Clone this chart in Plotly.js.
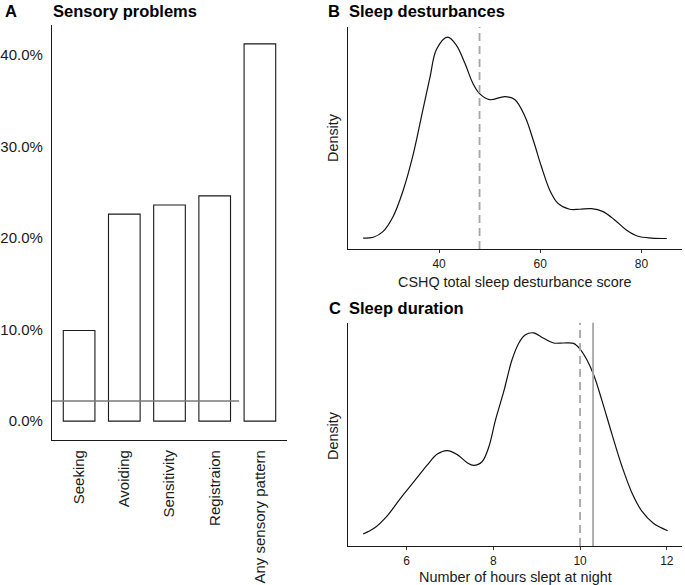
<!DOCTYPE html>
<html>
<head>
<meta charset="utf-8">
<script src="https://cdn.plot.ly/plotly-3.0.1.min.js"></script>
<style>html,body{margin:0;padding:0;background:#fff;}#chart{width:685px;height:585px;}</style>
</head>
<body>
<div id="chart"></div>
<script>
// Panel A: sensory problems
const sensoryCategories = ['Seeking', 'Avoiding', 'Sensitivity', 'Registraion', 'Any sensory pattern'];
const sensoryShares = [0.099, 0.226, 0.236, 0.246, 0.412];
const sensoryReference = [0.022];
const sensoryTickVals = [0, 0.1, 0.2, 0.3, 0.4];

// Panel B: CSHQ density (relative density)
const cshqScore = [25, 27, 28.9, 30.9, 32.9, 34.9, 36.8, 38.2, 39.5, 41.7, 43.4, 45.1, 46.7, 48, 50, 53, 55, 57, 58.6, 60.2, 61.9, 63.5, 65.8, 67.8, 70.1, 72.4, 74.7, 77, 79.3, 82, 85];
const cshqDensity = [0.004, 0.008, 0.036, 0.11, 0.24, 0.42, 0.64, 0.80, 0.94, 1.0, 0.96, 0.87, 0.77, 0.72, 0.69, 0.705, 0.69, 0.605, 0.49, 0.36, 0.24, 0.176, 0.147, 0.147, 0.15, 0.135, 0.094, 0.044, 0.013, 0.004, 0.002];
const cshqCutoff = [48];
const cshqTicks = [40, 60, 80];

// Panel C: sleep duration density (relative density)
const sleepHours = [5.0, 5.25, 5.56, 5.86, 6.17, 6.48, 6.71, 6.94, 7.17, 7.40, 7.55, 7.74, 7.90, 8.05, 8.24, 8.43, 8.59, 8.74, 8.93, 9.16, 9.39, 9.62, 9.85, 10.0, 10.16, 10.32, 10.5, 10.73, 10.97, 11.2, 11.43, 11.69, 12.02];
const sleepDensity = [0.009, 0.037, 0.10, 0.185, 0.267, 0.35, 0.403, 0.42, 0.40, 0.36, 0.347, 0.365, 0.44, 0.57, 0.71, 0.866, 0.95, 0.99, 1.0, 0.973, 0.95, 0.95, 0.948, 0.92, 0.866, 0.79, 0.67, 0.505, 0.34, 0.21, 0.12, 0.062, 0.025];
const sleepRecommended = [10.0];
const sleepMean = [10.3];
const sleepTicks = [6, 8, 10, 12];

const FONT = 'Liberation Sans, Arial, sans-serif';
const INK = '#1a1a1a';

const traces = [
  {
    type: 'bar', x: sensoryCategories, y: sensoryShares, xaxis: 'x', yaxis: 'y',
    width: 0.7, marker: {color: '#ffffff', line: {color: '#1a1a1a', width: 1.1}},
    hoverinfo: 'x+y', showlegend: false
  },
  {
    type: 'scatter', mode: 'lines', x: cshqScore, y: cshqDensity, xaxis: 'x2', yaxis: 'y2',
    line: {color: '#111', width: 1.2, shape: 'spline', smoothing: 1.0}, showlegend: false
  },
  {
    type: 'scatter', mode: 'lines', x: sleepHours, y: sleepDensity, xaxis: 'x3', yaxis: 'y3',
    line: {color: '#111', width: 1.2, shape: 'spline', smoothing: 1.0}, showlegend: false
  }
];

const axisBase = {
  showgrid: false, zeroline: false, showline: true, linecolor: '#1a1a1a', linewidth: 1.1,
  tickfont: {family: FONT, color: INK}
};

const layout = {
  width: 685, height: 585,
  margin: {l: 0, r: 0, t: 0, b: 0},
  paper_bgcolor: '#ffffff', plot_bgcolor: '#ffffff',
  font: {family: FONT, color: INK},
  showlegend: false,
  xaxis: Object.assign({}, axisBase, {
    domain: [0.0759, 0.419], anchor: 'y', type: 'category', range: [-0.6, 4.6],
    ticks: '', tickangle: -90, ticklabelstandoff: 3,
    tickfont: {family: FONT, size: 15, color: INK}
  }),
  yaxis: Object.assign({}, axisBase, {
    domain: [0.2479, 0.9573], anchor: 'x', range: [-0.0206, 0.4326],
    tickvals: sensoryTickVals, tickformat: '.1%', ticks: '', ticklabelstandoff: 5,
    tickfont: {family: FONT, size: 15, color: INK}
  }),
  xaxis2: Object.assign({}, axisBase, {
    domain: [0.508, 0.9956], anchor: 'y2', range: [22, 88], tickvals: cshqTicks,
    ticks: 'outside', ticklen: 3, tickcolor: '#333', tickwidth: 1, ticklabelstandoff: 1,
    tickfont: {family: FONT, size: 12, color: INK}
  }),
  yaxis2: Object.assign({}, axisBase, {
    domain: [0.5744, 0.9538], anchor: 'x2', range: [-0.05, 1.05], showticklabels: false, ticks: ''
  }),
  xaxis3: Object.assign({}, axisBase, {
    domain: [0.508, 0.9956], anchor: 'y3', range: [4.65, 12.35], tickvals: sleepTicks,
    ticks: 'outside', ticklen: 3, tickcolor: '#333', tickwidth: 1, ticklabelstandoff: 1,
    tickfont: {family: FONT, size: 12, color: INK}
  }),
  yaxis3: Object.assign({}, axisBase, {
    domain: [0.0667, 0.4484], anchor: 'x3', range: [-0.05, 1.05], showticklabels: false, ticks: ''
  }),
  shapes: [
    {type: 'line', xref: 'x', yref: 'y', x0: -0.6, x1: 3.54, y0: sensoryReference[0], y1: sensoryReference[0],
     line: {color: '#7a7a7a', width: 1.6}},
    {type: 'line', xref: 'x2', yref: 'y2 domain', x0: cshqCutoff[0], x1: cshqCutoff[0], y0: 0, y1: 1,
     line: {color: '#a6a6a6', width: 1.8, dash: '8px,5px'}},
    {type: 'line', xref: 'x3', yref: 'y3 domain', x0: sleepRecommended[0], x1: sleepRecommended[0], y0: 0, y1: 1,
     line: {color: '#a6a6a6', width: 1.8, dash: '8px,5px'}},
    {type: 'line', xref: 'x3', yref: 'y3 domain', x0: sleepMean[0], x1: sleepMean[0], y0: 0, y1: 1,
     line: {color: '#a6a6a6', width: 1.8}}
  ],
  annotations: [
    {xref: 'paper', yref: 'paper', x: 3 / 685, y: 1 - 11 / 585, xanchor: 'left', yanchor: 'middle', showarrow: false,
     text: '<b>A</b>', font: {family: FONT, size: 16.5, color: '#000'}},
    {xref: 'paper', yref: 'paper', x: 51 / 685, y: 1 - 11 / 585, xanchor: 'left', yanchor: 'middle', showarrow: false,
     text: '<b>Sensory problems</b>', font: {family: FONT, size: 16.5, color: '#000'}},
    {xref: 'paper', yref: 'paper', x: 326 / 685, y: 1 - 11 / 585, xanchor: 'left', yanchor: 'middle', showarrow: false,
     text: '<b>B</b>', font: {family: FONT, size: 16.5, color: '#000'}},
    {xref: 'paper', yref: 'paper', x: 347 / 685, y: 1 - 11 / 585, xanchor: 'left', yanchor: 'middle', showarrow: false,
     text: '<b>Sleep desturbances</b>', font: {family: FONT, size: 16.5, color: '#000'}},
    {xref: 'paper', yref: 'paper', x: 327 / 685, y: 1 - 307.5 / 585, xanchor: 'left', yanchor: 'middle', showarrow: false,
     text: '<b>C</b>', font: {family: FONT, size: 16.5, color: '#000'}},
    {xref: 'paper', yref: 'paper', x: 347 / 685, y: 1 - 307.5 / 585, xanchor: 'left', yanchor: 'middle', showarrow: false,
     text: '<b>Sleep duration</b>', font: {family: FONT, size: 16.5, color: '#000'}},
    {xref: 'paper', yref: 'paper', x: 515 / 685, y: 1 - 281.5 / 585, xanchor: 'center', yanchor: 'middle', showarrow: false,
     text: 'CSHQ total sleep desturbance score', font: {family: FONT, size: 14.4, color: INK}},
    {xref: 'paper', yref: 'paper', x: 515 / 685, y: 1 - 576.5 / 585, xanchor: 'center', yanchor: 'middle', showarrow: false,
     text: 'Number of hours slept at night', font: {family: FONT, size: 14.4, color: INK}},
    {xref: 'paper', yref: 'paper', x: 333 / 685, y: 1 - 138 / 585, xanchor: 'center', yanchor: 'middle', showarrow: false,
     textangle: -90, text: 'Density', font: {family: FONT, size: 14.4, color: INK}},
    {xref: 'paper', yref: 'paper', x: 333 / 685, y: 1 - 436 / 585, xanchor: 'center', yanchor: 'middle', showarrow: false,
     textangle: -90, text: 'Density', font: {family: FONT, size: 14.4, color: INK}}
  ]
};

Plotly.newPlot('chart', traces, layout, {displayModeBar: false, staticPlot: true});
</script>
</body>
</html>
